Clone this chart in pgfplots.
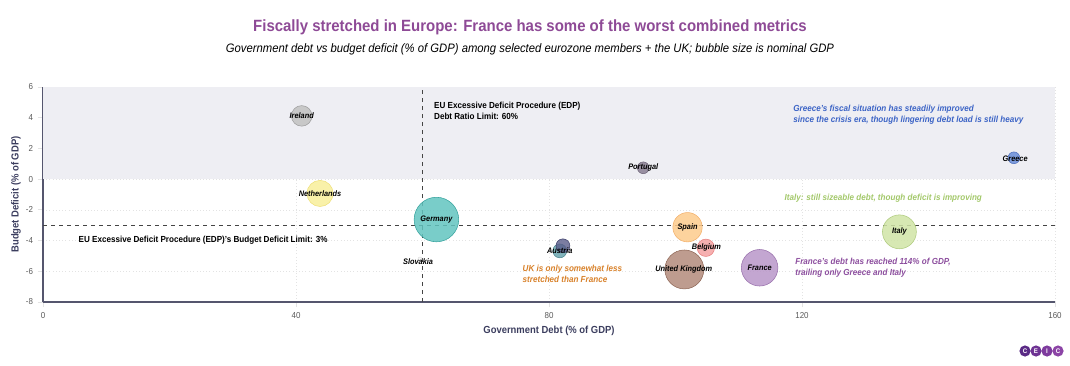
\documentclass[border=0pt]{standalone}
\usepackage{fontspec}
\setmainfont{Liberation Sans}[FakeStretch=0.92]
\usepackage{pgfplots}
\pgfplotsset{compat=1.18}
\definecolor{titlec}{HTML}{8E4A96}
\definecolor{axisc}{HTML}{55566E}
\definecolor{labc}{HTML}{3B3D5E}
\definecolor{tickc}{HTML}{5A5A5A}
\definecolor{shadec}{HTML}{EEEEF3}
\definecolor{gridc}{HTML}{E3E3E3}
\definecolor{refc}{HTML}{444444}
\definecolor{cIre}{HTML}{C4C4C4}\definecolor{dIre}{HTML}{9E9E9E}
\definecolor{cNet}{HTML}{F8F0A0}\definecolor{dNet}{HTML}{EEDF7A}
\definecolor{cGer}{HTML}{62C4BF}\definecolor{dGer}{HTML}{36A39E}
\definecolor{cPor}{HTML}{8F8599}\definecolor{dPor}{HTML}{6E6478}
\definecolor{cSpa}{HTML}{FDCB8C}\definecolor{dSpa}{HTML}{F3B06A}
\definecolor{cBel}{HTML}{F5A2A2}\definecolor{dBel}{HTML}{E88080}
\definecolor{cUK}{HTML}{B38B7B}\definecolor{dUK}{HTML}{8E6656}
\definecolor{cFra}{HTML}{B996C9}\definecolor{dFra}{HTML}{9870AC}
\definecolor{cIta}{HTML}{D0E4A6}\definecolor{dIta}{HTML}{AFCB7E}
\definecolor{cGre}{HTML}{7092DA}\definecolor{dGre}{HTML}{4F70BE}
\definecolor{cAu1}{HTML}{5A5C8A}\definecolor{dAu1}{HTML}{3F416B}
\definecolor{cAu2}{HTML}{6AA5AE}\definecolor{dAu2}{HTML}{4C8690}
\definecolor{cSlo}{HTML}{F7F7F7}\definecolor{dSlo}{HTML}{DDDDDD}
\definecolor{ngre}{HTML}{3C64C6}
\definecolor{nita}{HTML}{A3C86A}
\definecolor{nuk}{HTML}{D8812A}
\definecolor{nfra}{HTML}{8C4E9E}
\definecolor{logo1}{HTML}{5A2A85}\definecolor{logo2}{HTML}{6E3393}
\definecolor{logo3}{HTML}{7E3B9E}\definecolor{logo4}{HTML}{8C44A6}
\begin{document}
\begin{tikzpicture}
\begin{scope}[x=0.75pt,y=0.75pt]
\path[use as bounding box] (0,0) rectangle (1070,365);
\node[font=\bfseries\fontsize{12.2}{14}\selectfont, text=titlec] at (530,338) {Fiscally stretched in Europe: France has some of the worst combined metrics};
\node[font=\itshape\fontsize{9.2}{11}\selectfont] at (530,316) {Government debt vs budget deficit (\% of GDP) among selected eurozone members + the UK; bubble size is nominal GDP};
\foreach \cx/\col/\t in {1025/logo1/C,1036/logo2/E,1047/logo3/I,1058/logo4/C}{
  \fill[\col] (\cx,14) circle (5.6);
  \node[text=white, font=\bfseries\fontsize{5}{5}\selectfont, inner sep=0] at (\cx,14) {\t};
}
\end{scope}
\begin{axis}[
  at={(32.25pt,47.25pt)}, anchor=south west,
  scale only axis, width=759pt, height=161.25pt,
  xmin=0, xmax=160, ymin=-8, ymax=6,
  xtick={0,40,80,120,160}, ytick={-8,-6,-4,-2,0,2,4,6},
  axis x line*=bottom, axis y line*=left,
  axis line style={color=axisc, line width=1.1pt, -},
  tick align=outside, major tick length=4pt,
  tick style={color=gridc, line width=0.6pt},
  grid=major, major grid style={color=gridc, line width=0.4pt, dotted},
  ticklabel style={font=\fontsize{6.5}{7}\selectfont, text=tickc},
  /pgf/number format/assume math mode=true,
  xlabel={Government Debt (\% of GDP)},
  ylabel={Budget Deficit (\% of GDP)},
  xlabel style={font=\bfseries\fontsize{7.7}{9}\selectfont, text=labc, at={(axis description cs:0.5,0)}, anchor=center, yshift=-21.75pt},
  ylabel style={font=\bfseries\fontsize{7.7}{9}\selectfont, text=labc, at={(axis description cs:0,0.5)}, anchor=center, yshift=20.25pt},
  clip=false,
]
\addplot[draw=none, fill=shadec, forget plot] coordinates {(0,0) (160,0) (160,6) (0,6)} -- cycle;
\addplot[refc, dashed, line width=0.6pt, forget plot] coordinates {(60,-8) (60,6)};
\addplot[refc, dashed, line width=0.6pt, forget plot] coordinates {(0,-3) (160,-3)};
% bubbles
\addplot[only marks, mark=*, mark size=7.7pt, mark options={fill=cIre, draw=dIre, fill opacity=0.9}] coordinates {(40.9,4.12)};
\addplot[only marks, mark=*, mark size=9.8pt, mark options={fill=cNet, draw=dNet, fill opacity=0.9}] coordinates {(43.8,-0.93)};
\addplot[only marks, mark=*, mark size=16.7pt, mark options={fill=cGer, draw=dGer, fill opacity=0.85}] coordinates {(62.2,-2.63)};
\addplot[only marks, mark=*, mark size=1.5pt, mark options={fill=cSlo, draw=dSlo}] coordinates {(59.6,-5.2)};
\addplot[only marks, mark=*, mark size=5.2pt, mark options={fill=cAu2, draw=dAu2, fill opacity=0.85}] coordinates {(81.7,-4.67)};
\addplot[only marks, mark=*, mark size=5.2pt, mark options={fill=cAu1, draw=dAu1, fill opacity=0.8}] coordinates {(82.2,-4.34)};
\addplot[only marks, mark=*, mark size=4.4pt, mark options={fill=cPor, draw=dPor, fill opacity=0.9}] coordinates {(94.9,0.74)};
\addplot[only marks, mark=*, mark size=11pt, mark options={fill=cSpa, draw=dSpa, fill opacity=0.85}] coordinates {(101.9,-3.13)};
\addplot[only marks, mark=*, mark size=6.5pt, mark options={fill=cBel, draw=dBel, fill opacity=0.85}] coordinates {(104.8,-4.47)};
\addplot[only marks, mark=*, mark size=14.6pt, mark options={fill=cUK, draw=dUK, fill opacity=0.85}] coordinates {(101.4,-5.88)};
\addplot[only marks, mark=*, mark size=13.7pt, mark options={fill=cFra, draw=dFra, fill opacity=0.85}] coordinates {(113.3,-5.77)};
\addplot[only marks, mark=*, mark size=12.7pt, mark options={fill=cIta, draw=dIta, fill opacity=0.85}] coordinates {(135.4,-3.43)};
\addplot[only marks, mark=*, mark size=4.4pt, mark options={fill=cGre, draw=dGre, fill opacity=0.9}] coordinates {(153.5,1.39)};
% labels
\addplot[only marks, mark=none, nodes near coords, point meta=explicit symbolic,
  nodes near coords align={center},
  every node near coord/.append style={anchor=center, inner sep=0pt, font=\bfseries\itshape\fontsize{6.0}{7}\selectfont, text=black}]
  table[meta=label, col sep=comma, row sep=\\] {
x,y,label\\
40.9,4.12,Ireland\\
43.8,-0.93,Netherlands\\
62.2,-2.63,Germany\\
59.3,-5.38,Slovakia\\
81.7,-4.67,Austria\\
94.9,0.74,Portugal\\
101.9,-3.13,Spain\\
104.9,-4.42,Belgium\\
101.3,-5.88,United Kingdom\\
113.3,-5.77,France\\
135.4,-3.43,Italy\\
153.7,1.33,Greece\\
};
% annotations
\node[anchor=west, align=left, font=\bfseries\fontsize{6.6}{8.1}\selectfont, inner sep=0] at (axis cs:61.8,4.47) {EU Excessive Deficit Procedure (EDP)\\Debt Ratio Limit: 60\%};
\node[anchor=west, font=\bfseries\fontsize{6.6}{8}\selectfont, inner sep=0] at (axis cs:5.6,-3.97) {EU Excessive Deficit Procedure (EDP)'s Budget Deficit Limit: 3\%};
\node[anchor=west, align=left, text=ngre, font=\bfseries\itshape\fontsize{6.6}{8.1}\selectfont, inner sep=0] at (axis cs:118.6,4.19) {Greece's fiscal situation has steadily improved\\since the crisis era, though lingering debt load is still heavy};
\node[anchor=west, text=nita, font=\bfseries\itshape\fontsize{6.6}{8}\selectfont, inner sep=0] at (axis cs:117.2,-1.26) {Italy: still sizeable debt, though deficit is improving};
\node[anchor=west, align=left, text=nuk, font=\bfseries\itshape\fontsize{6.6}{8.1}\selectfont, inner sep=0] at (axis cs:75.8,-6.17) {UK is only somewhat less\\stretched than France};
\node[anchor=west, align=left, text=nfra, font=\bfseries\itshape\fontsize{6.6}{8.1}\selectfont, inner sep=0] at (axis cs:118.9,-5.79) {France's debt has reached 114\% of GDP,\\trailing only Greece and Italy};
\end{axis}
\end{tikzpicture}
\end{document}
